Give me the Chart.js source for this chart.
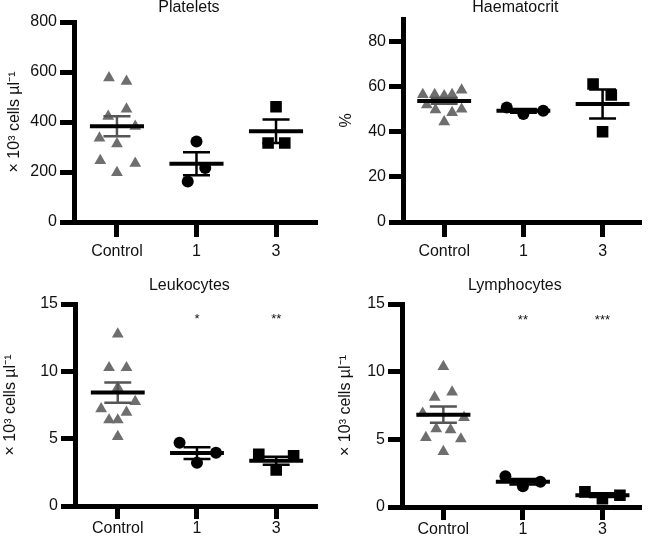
<!DOCTYPE html>
<html>
<head>
<meta charset="utf-8">
<script src="https://cdn.jsdelivr.net/npm/chart.js@4.4.1/dist/chart.umd.min.js"></script>
<style>
  html, body { margin: 0; padding: 0; background: #fff; }
  #wrap { position: relative; width: 648px; height: 540px; }
  .p { position: absolute; width: 324px; height: 270px; }
</style>
</head>
<body>
<div id="wrap">
  <div class="p" style="left:0;top:0"><canvas id="c1" width="324" height="270"></canvas></div>
  <div class="p" style="left:324px;top:0"><canvas id="c2" width="324" height="270"></canvas></div>
  <div class="p" style="left:0;top:270px"><canvas id="c3" width="324" height="270"></canvas></div>
  <div class="p" style="left:324px;top:270px"><canvas id="c4" width="324" height="270"></canvas></div>
</div>
<script>
const groups = ['Control', '1', '3'];

// Platelets (x10^3 cells/ul)
const pltControl = [577, 563, 452, 423, 383, 336, 313, 246, 235, 198];
const pltControlX = [-0.10, 0.12, 0.12, -0.11, 0.23, -0.22, 0, -0.21, 0.23, 0];
const pltDose1 = [322, 216, 162];
const pltDose1X = [0, 0.11, -0.11];
const pltDose3 = [461, 316, 316];
const pltDose3X = [0, -0.10, 0.11];
const pltMean = [383, 233, 363];
const pltSem = [40, 46, 47];
const pltTicks = [0, 200, 400, 600, 800];

// Haematocrit (%)
const hctControl = [56.5, 56.5, 56.0, 56.5, 58.5, 51.9, 49.7, 48.5, 50.0, 44.4];
const hctControlX = [-0.27, -0.12, 0, 0.10, 0.22, -0.22, -0.11, 0.10, 0.22, 0];
const hctDose1 = [50.8, 47.9, 49.3];
const hctDose1X = [-0.21, 0, 0.25];
const hctDose3 = [61.2, 56.3, 40.0];
const hctDose3X = [-0.12, 0.11, 0];
const hctMean = [53.7, 49.3, 52.3];
const hctSem = [1.3, 0.85, 6.4];
const hctTicks = [0, 20, 40, 60, 80];

// Leukocytes (x10^3 cells/ul)
const leuControl = [12.77, 10.27, 10.27, 8.79, 7.75, 7.21, 6.96, 6.39, 6.39, 5.15];
const leuControlX = [0, -0.11, 0.11, 0, 0.22, -0.21, 0.11, -0.11, 0, 0];
const leuDose1 = [4.7, 3.22, 3.96];
const leuDose1X = [-0.22, 0, 0.24];
const leuDose3 = [3.84, 2.68, 3.72];
const leuDose3X = [-0.22, 0, 0.22];
const leuMean = [8.42, 3.93, 3.36];
const leuSem = [0.75, 0.44, 0.29];
const leuStars = ['', '*', '**'];

// Lymphocytes (x10^3 cells/ul)
const lymControl = [10.37, 8.10, 8.49, 6.93, 6.61, 5.77, 5.70, 5.13, 5.03, 4.09];
const lymControlX = [0, -0.11, 0.11, -0.26, 0.26, -0.09, 0.09, -0.22, 0.22, 0];
const lymDose1 = [2.28, 1.54, 1.86];
const lymDose1X = [-0.22, 0, 0.22];
const lymDose3 = [1.12, 0.62, 0.87];
const lymDose3X = [-0.22, 0, 0.22];
const lymMean = [6.82, 1.86, 0.87];
const lymSem = [0.60, 0.20, 0.14];
const lymStars = ['', '**', '***'];

const cellTicks = [0, 5, 10, 15];
const starLevel = 14;

const FONT = '"Liberation Sans", Arial, Helvetica, sans-serif';
Chart.defaults.font.family = FONT;
Chart.defaults.font.size = 16;
Chart.defaults.color = '#111';

const STYLE = ['triangle', 'circle', 'rect'];
const RADIUS = [6.8, 6, 8.2];
const COLOR = ['#6e6e6e', '#000', '#000'];
const SEMCOLOR = ['#555', '#000', '#000'];

const panelText = {
  id: 'panelText',
  afterDatasetsDraw(chart, args, opts) {
    const { ctx, chartArea, scales } = chart;
    ctx.save();
    ctx.fillStyle = '#111';
    ctx.textAlign = 'center';
    ctx.textBaseline = 'alphabetic';
    ctx.font = '16px ' + FONT;
    ctx.fillText(opts.title, (chartArea.left + chartArea.right) / 2 - 6, opts.titleY);
    ctx.font = '13px ' + FONT;
    (opts.stars || []).forEach((s, i) => {
      if (!s) return;
      ctx.fillText(s, scales.x.getPixelForValue(i), scales.y.getPixelForValue(starLevel) + 6);
    });
    ctx.restore();
  }
};

function panel(id, o) {
  const pts = [o.ctrl, o.d1, o.d3];
  const jit = [o.ctrlX, o.d1X, o.d3X];
  const datasets = [];
  pts.forEach((vals, g) => {
    datasets.push({
      type: 'scatter',
      data: vals.map((v, i) => ({ x: g + jit[g][i], y: v })),
      pointStyle: STYLE[g], pointRadius: RADIUS[g],
      backgroundColor: COLOR[g], borderColor: COLOR[g], borderWidth: 0,
      order: 2
    });
  });
  o.mean.forEach((m, g) => {
    const s = o.sem[g];
    datasets.push({
      type: 'line',
      data: [{ x: g - 0.34, y: m }, { x: g + 0.34, y: m }],
      borderColor: '#000', borderWidth: 4, pointRadius: 0, fill: false, order: 0
    });
    datasets.push({
      type: 'line',
      data: [
        { x: g - 0.17, y: m + s }, { x: g + 0.17, y: m + s }, { x: g, y: null },
        { x: g, y: m + s }, { x: g, y: m - s }, { x: g, y: null },
        { x: g - 0.17, y: m - s }, { x: g + 0.17, y: m - s }
      ],
      borderColor: SEMCOLOR[g], borderWidth: 2.5, pointRadius: 0, fill: false, spanGaps: false, order: 1
    });
  });

  const axisGrid = { drawOnChartArea: false, drawTicks: true, color: '#000', lineWidth: 5, tickWidth: 5, tickColor: '#000' };

  new Chart(document.getElementById(id), {
    type: 'scatter',
    data: { datasets },
    plugins: [panelText],
    options: {
      responsive: false,
      animation: false,
      events: [],
      layout: { padding: { top: o.top, right: o.right, left: 0, bottom: 0 } },
      plugins: {
        legend: { display: false },
        tooltip: { enabled: false },
        panelText: { title: o.title, titleY: o.titleY, stars: o.stars }
      },
      scales: {
        x: {
          type: 'linear', min: o.xMin, max: o.xMax,
          afterBuildTicks: s => { s.ticks = groups.map((g, i) => ({ value: i })); },
          afterFit: s => { s.height = o.xH; },
          ticks: { autoSkip: false, maxRotation: 0, padding: o.xPad, callback: v => groups[v] },
          grid: { ...axisGrid, tickLength: o.xTick },
          border: { display: true, width: 5, color: '#000' }
        },
        y: {
          min: 0, max: o.yMax,
          afterBuildTicks: s => { s.ticks = o.ticks.map(v => ({ value: v })); },
          afterFit: s => { s.width = o.yW; },
          ticks: { padding: 3 },
          grid: { ...axisGrid, tickLength: 14 },
          border: { display: true, width: 5, color: '#000' },
          title: { display: true, text: o.yTitle, font: { size: 16 }, padding: { top: o.yTitlePad, bottom: 0 } }
        }
      }
    }
  });
}

const cellsTitle = '\u00d7 10\u00b3 cells \u00b5l\u207b\u00b9';

panel('c1', {
  title: 'Platelets', titleY: 12, yTitle: cellsTitle, yTitlePad: 5,
  ctrl: pltControl, ctrlX: pltControlX, d1: pltDose1, d1X: pltDose1X, d3: pltDose3, d3X: pltDose3X,
  mean: pltMean, sem: pltSem, ticks: pltTicks, yMax: 800,
  xMin: -0.54, xMax: 2.5, top: 22, right: 4, yW: 74, xH: 48, xTick: 15, xPad: 5
});
panel('c2', {
  title: 'Haematocrit', titleY: 12, yTitle: '%', yTitlePad: 13.4,
  ctrl: hctControl, ctrlX: hctControlX, d1: hctDose1, d1X: hctDose1X, d3: hctDose3, d3X: hctDose3X,
  mean: hctMean, sem: hctSem, ticks: hctTicks, yMax: 90,
  xMin: -0.52, xMax: 2.47, top: 19, right: 3, yW: 79, xH: 48, xTick: 15, xPad: 5
});
panel('c3', {
  title: 'Leukocytes', titleY: 20, yTitle: cellsTitle, yTitlePad: 1, stars: leuStars,
  ctrl: leuControl, ctrlX: leuControlX, d1: leuDose1, d1X: leuDose1X, d3: leuDose3, d3X: leuDose3X,
  mean: leuMean, sem: leuSem, ticks: cellTicks, yMax: 15,
  xMin: -0.54, xMax: 2.5, top: 34, right: 5, yW: 75, xH: 34, xTick: 13, xPad: 0
});
panel('c4', {
  title: 'Lymphocytes', titleY: 20, yTitle: cellsTitle, yTitlePad: 12.4, stars: lymStars,
  ctrl: lymControl, ctrlX: lymControlX, d1: lymDose1, d1X: lymDose1X, d3: lymDose3, d3X: lymDose3X,
  mean: lymMean, sem: lymSem, ticks: cellTicks, yMax: 15,
  xMin: -0.52, xMax: 2.47, top: 34, right: 5, yW: 78, xH: 33, xTick: 13, xPad: 0
});
</script>
</body>
</html>
